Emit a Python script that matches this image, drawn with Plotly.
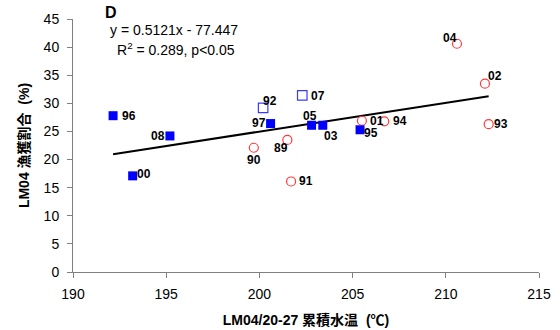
import plotly.graph_objects as go

# Filled squares
fs_labels = ["96", "08", "00", "97", "05", "03", "95"]
fs_x = [192.15, 195.2, 193.2, 200.6, 202.8, 203.4, 205.4]
fs_y = [27.8, 24.2, 17.1, 26.4, 26.1, 26.1, 25.3]

# Open squares
os_labels = ["92", "07"]
os_x = [200.2, 202.3]
os_y = [29.2, 31.4]

# Open circles
oc_labels = ["01", "94", "04", "02", "93", "89", "90", "91"]
oc_x = [205.5, 206.7, 210.6, 212.1, 212.3, 201.5, 199.7, 201.7]
oc_y = [26.9, 26.8, 40.6, 33.5, 26.3, 23.5, 22.1, 16.1]

slope = 0.5121
intercept = -77.447
x_ticks = [190, 195, 200, 205, 210, 215]
y_ticks = [0, 5, 10, 15, 20, 25, 30, 35, 40, 45]

# label pixel offsets (dx, dy-up)
label_offsets = {
    "96": (16, 0), "08": (-12, 0), "00": (11, 2), "97": (-12, 1),
    "05": (-2, 9), "03": (8, -11), "95": (11, -3),
    "92": (7, 7), "07": (16, -1),
    "01": (15, 0), "94": (16, 0), "04": (-7, 6), "02": (10, 8),
    "93": (12, 0), "89": (-6, -8), "90": (0, -12), "91": (15, 0),
}

FONT = "Liberation Sans, Arial, Noto Sans CJK JP, sans-serif"

fig = go.Figure()

all_x = fs_x + os_x + oc_x
xmin, xmax = min(all_x), max(all_x)
fig.add_trace(go.Scatter(x=[xmin, xmax], y=[slope * xmin + intercept, slope * xmax + intercept],
                         mode="lines", line=dict(color="black", width=2), showlegend=False,
                         hoverinfo="skip"))

fig.add_trace(go.Scatter(x=oc_x, y=oc_y, mode="markers",
                         marker=dict(symbol="circle-open", size=9, color="#FF3A3A",
                                     line=dict(width=1.2, color="#FF3A3A")),
                         showlegend=False))
fig.add_trace(go.Scatter(x=os_x, y=os_y, mode="markers",
                         marker=dict(symbol="square-open", size=9.5, color="#3A3AFF",
                                     line=dict(width=1.2, color="#3A3AFF")),
                         showlegend=False))
fig.add_trace(go.Scatter(x=fs_x, y=fs_y, mode="markers",
                         marker=dict(symbol="square", size=9, color="#0000FF",
                                     line=dict(width=0)),
                         showlegend=False))

for labs, xs, ys in [(fs_labels, fs_x, fs_y), (os_labels, os_x, os_y), (oc_labels, oc_x, oc_y)]:
    for lab, xv, yv in zip(labs, xs, ys):
        dx, dy = label_offsets[lab]
        fig.add_annotation(x=xv, y=yv, text=f"<b>{lab}</b>", showarrow=False,
                           xshift=dx, yshift=dy, font=dict(family=FONT, size=12, color="black"))

fig.add_annotation(xref="paper", yref="paper", x=0.064, y=1.026, xanchor="left", yanchor="middle",
                   text="<b>D</b>", showarrow=False, font=dict(family=FONT, size=16, color="black"))
fig.add_annotation(xref="paper", yref="paper", x=0.075, y=0.957, xanchor="left", yanchor="middle",
                   text="y = 0.5121x - 77.447", showarrow=False,
                   font=dict(family=FONT, size=14, color="black"))
fig.add_annotation(xref="paper", yref="paper", x=0.09, y=0.881, xanchor="left", yanchor="middle",
                   text="R<sup>2</sup> = 0.289, p&lt;0.05", showarrow=False,
                   font=dict(family=FONT, size=14, color="black"))

fig.update_layout(
    width=560, height=330,
    margin=dict(l=73, r=21, t=19, b=58),
    paper_bgcolor="white", plot_bgcolor="white",
    font=dict(family=FONT, size=14, color="black"),
    xaxis=dict(range=[190, 215], tickvals=x_ticks, showgrid=False, zeroline=False,
               showline=True, linecolor="#808080", linewidth=1, automargin=False,
               ticks="outside", ticklen=5, tickcolor="#808080",
               tickfont=dict(size=14), ticklabelstandoff=4,
               title=dict(text="<b>LM04/20-27 累積水温  (℃)</b>", font=dict(size=14), standoff=14)),
    yaxis=dict(range=[0, 45], tickvals=y_ticks, showgrid=False, zeroline=False,
               showline=True, linecolor="#808080", linewidth=1, automargin=False,
               ticks="outside", ticklen=5, tickcolor="#808080",
               tickfont=dict(size=14), ticklabelstandoff=5,
               title=dict(text="<b>LM04 漁獲割合  (%)</b>", font=dict(size=14), standoff=10)),
)

fig.write_html("out.html")
